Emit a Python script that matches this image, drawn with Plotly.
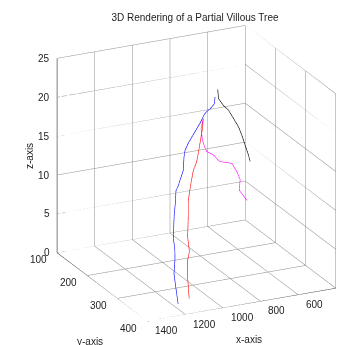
import plotly.graph_objects as go

title = "3D Rendering of a Partial Villous Tree"
x_ticks = [400, 600, 800, 1000, 1200, 1400]
y_ticks = [100, 200, 300, 400]
z_ticks = [0, 5, 10, 15, 20, 25]

blue_x = [1171, 1174, 1177, 1164, 1158, 1160, 1142, 1127, 1120, 1105, 1070, 1058, 1049, 1028, 996, 953, 926, 911, 887, 866, 859]
blue_y = [358, 352, 348, 343, 339, 335, 327, 322, 319, 317, 312, 307, 305, 302, 299, 295, 292, 291, 290, 288, 286]
blue_z = [0.0, 2.0, 3.6, 5.2, 6.3, 7.9, 10.5, 12.0, 13.2, 13.7, 15.4, 16.9, 17.7, 18.4, 19.3, 20.5, 21.4, 21.7, 22.0, 22.4, 23.2]

red_x = [1093, 1093, 1092, 1087, 1071, 1074, 1061, 1053, 1040, 1030, 1013, 991, 979, 964, 945, 936]
red_y = [346, 343, 339, 336, 333, 329, 323, 318, 315, 313, 310, 307, 305, 302, 298, 295]
red_z = [0.0, 1.5, 3.0, 4.4, 5.6, 7.4, 9.8, 11.6, 12.8, 13.7, 15.1, 16.0, 17.0, 18.3, 19.9, 21.0]

magenta_x = [936, 948, 941, 930, 918, 882, 856, 847, 784, 757, 740, 745, 704]
magenta_y = [295, 295, 295, 295, 295, 295, 295, 295, 295, 295, 295, 295, 295]
magenta_z = [21.0, 19.8, 18.3, 17.4, 16.7, 16.1, 15.3, 15.1, 14.6, 13.4, 12.3, 11.0, 9.5]

black_x = [787, 783, 757, 730, 703, 676, 658, 641, 623, 614]
black_y = [250, 250, 250, 250, 250, 250, 250, 250, 250, 250]
black_z = [22.8, 21.6, 20.6, 19.9, 18.7, 17.5, 16.3, 15.0, 13.6, 12.8]

xmin, xmax = min(x_ticks), max(x_ticks)
ymin, ymax = min(y_ticks), max(y_ticks)
zmin, zmax = min(z_ticks), max(z_ticks)

fig = go.Figure()

gx, gy, gz = [], [], []
def seg(p, q):
    gx.extend([p[0], q[0], None]); gy.extend([p[1], q[1], None]); gz.extend([p[2], q[2], None])

for xv in x_ticks:
    if xv != xmax:
        seg((xv, ymin, zmin), (xv, ymin, zmax))
    seg((xv, ymin, zmin), (xv, ymax, zmin))
for yv in y_ticks:
    seg((xmin, yv, zmin), (xmin, yv, zmax))
    if yv != ymax:
        seg((xmin, yv, zmin), (xmax, yv, zmin))
for zv in z_ticks:
    if zv != zmin:
        seg((xmin, ymin, zv), (xmax, ymin, zv))
        seg((xmin, ymin, zv), (xmin, ymax, zv))

fig.add_trace(go.Scatter3d(x=gx, y=gy, z=gz, mode="lines",
                           line=dict(color="#8c8c8c", width=1),
                           hoverinfo="skip", showlegend=False))

fig.add_trace(go.Scatter3d(x=[xmax, xmax], y=[ymin, ymin], z=[zmin, zmax], mode="lines",
                           line=dict(color="#808080", width=2), hoverinfo="skip", showlegend=False))
fig.add_trace(go.Scatter3d(x=[xmax, xmax, xmin], y=[ymin, ymax, ymax], z=[zmin, zmin, zmin], mode="lines",
                           line=dict(color="#303030", width=1), hoverinfo="skip", showlegend=False))

for xs, ys, zs, col in [(blue_x, blue_y, blue_z, "#0000ff"),
                        (red_x, red_y, red_z, "#ff0000"),
                        (magenta_x, magenta_y, magenta_z, "#ff00ff"),
                        (black_x, black_y, black_z, "#000000")]:
    fig.add_trace(go.Scatter3d(x=xs, y=ys, z=zs, mode="lines",
                               line=dict(color=col, width=1.2), showlegend=False))

fnt = dict(family="Liberation Sans, Arial, sans-serif", size=10, color="#222222")
ann = []
for zv in z_ticks:
    ann.append(dict(x=xmax, y=ymin, z=zv, text=str(zv), showarrow=False,
                    xanchor="right", yanchor="middle", xshift=-5, yshift=0, font=fnt))
for yv in y_ticks:
    ann.append(dict(x=xmax, y=yv, z=zmin, text=str(yv), showarrow=False,
                    xanchor="right", yanchor="middle", xshift=-8, yshift=-7, font=fnt))
for xv in x_ticks:
    ann.append(dict(x=xv, y=ymax, z=zmin, text=str(xv), showarrow=False,
                    xanchor="left", yanchor="middle", xshift=6, yshift=-9.5, font=fnt))

axis_common = dict(showgrid=False, zeroline=False, showline=False, showticklabels=False,
                   showbackground=False, showspikes=False, title=dict(text=""), ticks="")

W, H = 350, 345
fig.update_layout(
    width=W, height=H,
    margin=dict(l=0, r=0, t=0, b=0),
    paper_bgcolor="white",
    title=dict(text=title, x=187/W, xanchor="center", y=1-9/H, yanchor="middle",
               font=dict(family="Liberation Sans, Arial, sans-serif", size=10, color="#222222")),
    scene=dict(
        domain=dict(x=[0.099, 0.976], y=[0.0, 1.0]),
        xaxis=dict(range=[xmin, xmax], **axis_common),
        yaxis=dict(range=[ymin, ymax], **axis_common),
        zaxis=dict(range=[zmin, zmax], **axis_common),
        aspectmode="manual",
        aspectratio=dict(x=1.21, y=1.21, z=1.21),
        camera=dict(eye=dict(x=0.815, y=1.692, z=0.687), center=dict(x=0, y=0, z=-0.045),
                    up=dict(x=0, y=0, z=1), projection=dict(type="orthographic")),
        annotations=ann,
    ),
    annotations=[
        dict(text="x-axis", x=241/W, y=1-331/H, xref="paper", yref="paper",
             xanchor="center", yanchor="middle", showarrow=False, font=fnt),
        dict(text="y-axis", x=82/W, y=1-333/H, xref="paper", yref="paper",
             xanchor="center", yanchor="middle", showarrow=False, font=fnt),
        dict(text="z-axis", x=21/W, y=1-148/H, xref="paper", yref="paper",
             xanchor="center", yanchor="middle", showarrow=False, textangle=-90, font=fnt),
    ],
)

fig.write_html("out.html")
